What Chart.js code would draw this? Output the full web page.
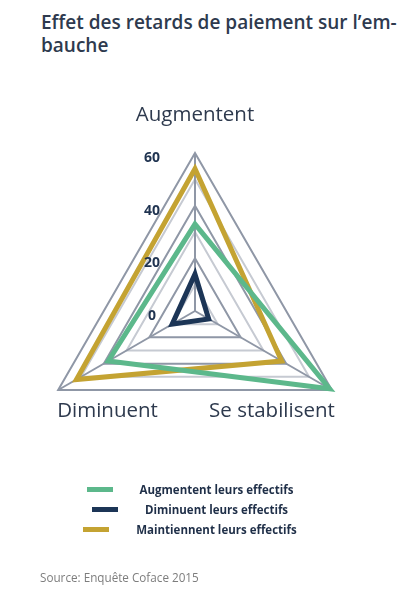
<!DOCTYPE html>
<html lang="fr">
<head>
<meta charset="utf-8">
<script src="https://cdn.jsdelivr.net/npm/chart.js@4"></script>
<style>
  html, body { margin: 0; padding: 0; background: #fff; }
  #wrap { position: relative; width: 411px; height: 595px; overflow: hidden; }
  #chart { position: absolute; left: 0; top: 0; }
  h1 {
    position: absolute; left: 41px; top: 11px; width: 370px; margin: 0;
    font: 600 19px/23px "Open Sans", sans-serif; color: #2e3a4e;
  }
  #legend { position: absolute; left: 0; top: 479px; width: 380px; }
  .row { display: flex; justify-content: center; align-items: center; height: 20px; }
  .bar { width: 26px; height: 5px; margin-right: 27px; }
  .row span { font: 700 11.5px "Open Sans", sans-serif; color: #1f2f48; }
  #source {
    position: absolute; left: 40px; top: 569px;
    font: 400 11.7px "Open Sans", sans-serif; color: #7d7d7d;
  }
</style>
</head>
<body>
<div id="wrap">
  <h1>Effet des retards de paiement sur l’em-<br>bauche</h1>
  <canvas id="chart" width="411" height="595"></canvas>
  <div id="legend"></div>
  <div id="source">Source: Enquête Coface 2015</div>
</div>
<script>
// axes, clockwise from the top
const categories = ['Augmentent', 'Se stabilisent', 'Diminuent'];
const seriesNames = ['Augmentent leurs effectifs', 'Diminuent leurs effectifs', 'Maintiennent leurs effectifs'];
const augmentent = [33, 59, 38];
const diminuent = [14, 6, 10];
const maintiennent = [54, 38, 52];
const tickValues = [0, 20, 40, 60];

const darkGrid = '#8f97a6';
const lightGrid = '#c6cad2';
const textColor = '#2e3a4e';

// tick numbers sit left of the vertical axis, point labels under the corners
const labelsPlugin = {
  id: 'radarLabels',
  afterDatasetsDraw(chart) {
    const scale = chart.scales.r;
    const ctx = chart.ctx;
    ctx.save();
    ctx.fillStyle = '#1f3350';
    ctx.font = '700 14px "Open Sans", sans-serif';
    ctx.textAlign = 'center';
    ctx.textBaseline = 'middle';
    tickValues.forEach(v => {
      const y = scale.yCenter - scale.getDistanceFromCenterForValue(v) + 5;
      ctx.fillText(String(v), scale.xCenter - 43, y);
    });

    ctx.fillStyle = textColor;
    ctx.font = '400 20.5px "Open Sans", sans-serif';
    categories.forEach((label, i) => {
      const p = scale.getPointPosition(i, scale.drawingArea);
      if (i === 0) {
        ctx.textAlign = 'center';
        ctx.fillText(label, p.x, p.y - 38);
      } else if (i === 1) {
        ctx.textAlign = 'right';
        ctx.fillText(label, p.x + 3, p.y + 21);
      } else {
        ctx.textAlign = 'left';
        ctx.fillText(label, p.x - 1, p.y + 21);
      }
    });
    ctx.restore();
  }
};

function makeSet(label, data, color) {
  return {
    label: label,
    data: data,
    borderColor: color,
    backgroundColor: color,
    borderWidth: 5,
    borderJoinStyle: 'miter',
    fill: false,
    pointRadius: 0,
    pointHoverRadius: 0
  };
}

const chart = new Chart(document.getElementById('chart'), {
  type: 'radar',
  data: {
    labels: categories,
    datasets: [
      makeSet(seriesNames[0], augmentent, '#5cb88b'),
      makeSet(seriesNames[1], diminuent, '#1c3556'),
      makeSet(seriesNames[2], maintiennent, '#c4a332')
    ]
  },
  options: {
    responsive: false,
    animation: false,
    layout: { padding: { left: 37, right: 58, top: 153, bottom: 126 } },
    plugins: {
      legend: { display: false },
      tooltip: { enabled: false }
    },
    scales: {
      r: {
        min: 0,
        max: 60,
        ticks: { stepSize: 10, display: false },
        pointLabels: { display: false },
        angleLines: { color: darkGrid, lineWidth: 2 },
        grid: {
          lineWidth: 2,
          color: ctx => (ctx.tick && ctx.tick.value % 20 === 0) ? darkGrid : lightGrid
        }
      }
    }
  },
  plugins: [labelsPlugin]
});

// html legend built from the datasets
const legendEl = document.getElementById('legend');
chart.data.datasets.forEach(ds => {
  const row = document.createElement('div');
  row.className = 'row';
  const bar = document.createElement('div');
  bar.className = 'bar';
  bar.style.background = ds.borderColor;
  const txt = document.createElement('span');
  txt.textContent = ds.label;
  row.appendChild(bar);
  row.appendChild(txt);
  legendEl.appendChild(row);
});
</script>
</body>
</html>
